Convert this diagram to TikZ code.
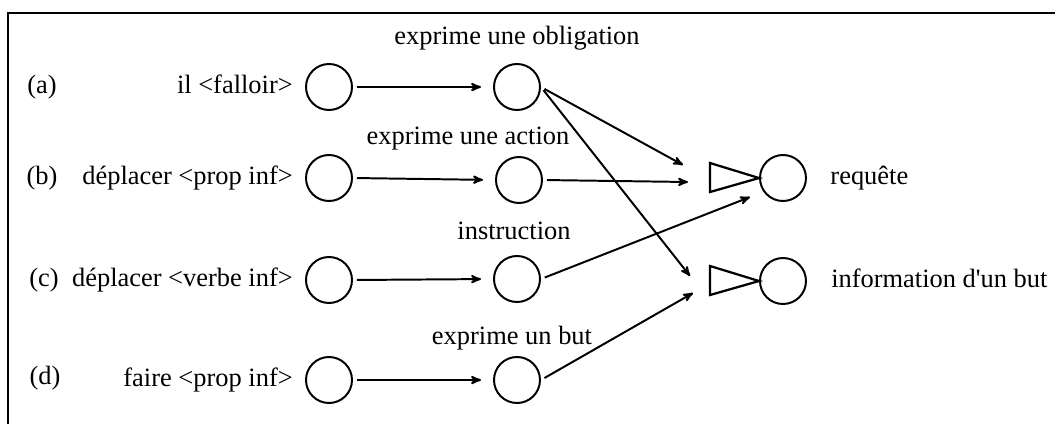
\documentclass[tikz,border=0pt]{standalone}
\usepackage{fontspec}
\setmainfont{Liberation Serif}
\usepackage{tikz}
\usetikzlibrary{arrows,positioning}
\tikzset{
  lbl/.style = {inner sep=0pt, yshift=-0.07cm, font=\fontsize{18.8}{22}\selectfont},
  nd/.style = {circle, draw=black, line width=1.4pt, inner sep=0pt,
    minimum size=1.15cm},% empty circle
  trg/.style = {draw=black, line width=1.6pt, line join=miter},% triangle
  link/.style = {->, line width=1.4pt, shorten <=0.1cm}
}
\begin{document}
\begin{tikzpicture}[x=0.025cm,y=-0.025cm,>=stealth']
\useasboundingbox (0,0) rectangle (1055,423);
\draw[line width=1.6pt] (8,430) -- (8,13) -- (1060,13);
% left column
\node [nd] (la) at (329,87) {};
\node [nd] (lb) at (329,178) {};
\node [nd] (lc) at (329,280) {};
\node [nd] (ld) at (329,380) {};
\node [lbl, left=0.3cm of la, anchor=mid east] {il <falloir>};
\node [lbl, left=0.3cm of lb, anchor=mid east] {déplacer <prop inf>};
\node [lbl, left=0.3cm of lc, anchor=mid east] {déplacer <verbe inf>};
\node [lbl, left=0.3cm of ld, anchor=mid east] {faire <prop inf>};
\node [lbl, anchor=mid] (ta) at (42,87) {(a)};
\node [lbl, anchor=mid] (tb) at (42,178) {(b)};
\node [lbl, anchor=mid] (tc) at (44,280) {(c)};
\node [lbl, anchor=mid] (td) at (45,378) {(d)};
% middle column
\node [nd] (ma) at (517,87) {};
\node [nd] (mb) at (519,180) {};
\node [nd] (mc) at (517,279) {};
\node [nd] (md) at (517,380) {};
\node [lbl, anchor=mid] at (517,38) {exprime une obligation};
\node [lbl, anchor=mid] at (468,138) {exprime une action};
\node [lbl, anchor=mid] at (514,233) {instruction};
\node [lbl, anchor=mid] at (512,338) {exprime un but};
% right column
\node [nd] (rq) at (783,178) {};
\node [nd] (ib) at (783,281) {};
\node [lbl, right=0.58cm of rq, anchor=mid west] {requête};
\node [lbl, right=0.6cm of ib, anchor=mid west] {information d\textquotesingle un but};
\draw [trg] (rq.west) -- ++(-49,-15) -- ++(0,29) -- cycle;
\draw [trg] (ib.west) -- ++(-49,-15) -- ++(0,29) -- cycle;
\coordinate (rq1) at (683,165);
\coordinate (rq2) at (688,182);
\coordinate (rq3) at (750,197);
\coordinate (ib1) at (690,276);
\coordinate (ib2) at (693,293);
% connectors
\foreach \r in {a,b,c,d}
  \draw [link, shorten >=0.3cm] (l\r.east) -- (m\r.west);
\draw [link] (ma.east) -- (rq1);
\draw [link] (ma.east) -- (ib1);
\draw [link] (mb.east) -- (rq2);
\draw [link] (mc.east) -- (rq3);
\draw [link] (md.east) -- (ib2);
\end{tikzpicture}
\end{document}
